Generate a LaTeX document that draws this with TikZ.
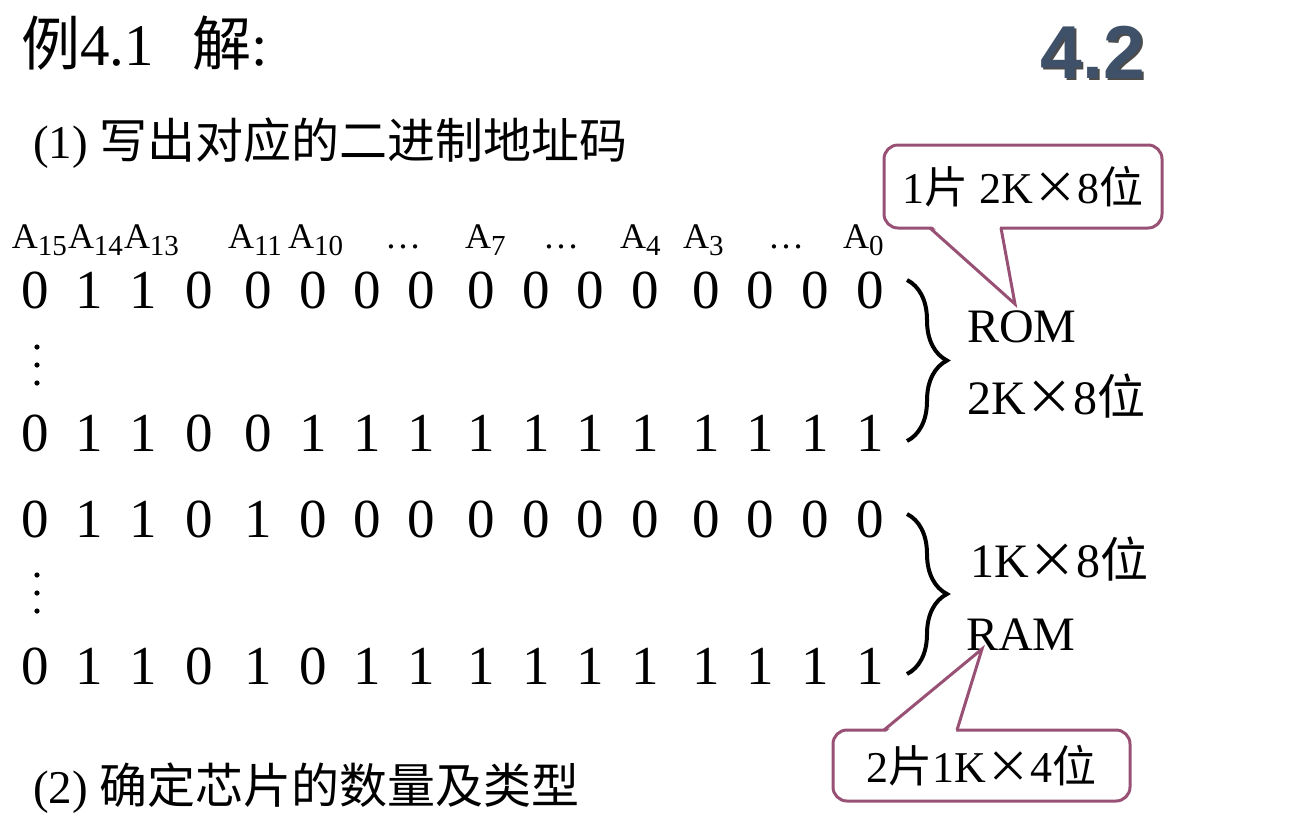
\documentclass[tikz,border=0pt]{standalone}
\usepackage{fontspec}
\setmainfont{Liberation Serif}
\newfontfamily\cjk{Noto Sans CJK SC}
\newfontfamily\hsans{Liberation Sans}
\usetikzlibrary{decorations.pathreplacing}
\definecolor{callcol}{HTML}{985174}
\definecolor{titleblue}{HTML}{3F5069}
\newcommand{\Ab}[1]{A\raisebox{-7pt}{\fontsize{29}{29}\selectfont #1}}
\newcommand{\putrow}[3]{%
  \foreach \x/\d [count=\i] in {#3}{\node[dig] (r#1c\i) at (\x,#2) {\d};}}
\begin{document}
\begin{tikzpicture}[x=1pt,y=-1pt,
  txt/.style={anchor=base west,inner sep=0pt,outer sep=0pt},
  big/.style={font=\fontsize{59}{59}\selectfont},
  mid/.style={font=\fontsize{48}{48}\selectfont},
  alab/.style={txt,font=\fontsize{36}{36}\selectfont},
  dig/.style={anchor=base,inner sep=0pt,font=\fontsize{55}{55}\selectfont},
  bracestyle/.style={line width=4pt,decorate,decoration={brace,amplitude=40pt}},
  callbox/.style={draw=callcol,line width=3pt,rounded corners=14pt,fill=white,
     inner sep=0pt,font=\fontsize{44}{44}\selectfont},
  callline/.style={draw=callcol,line width=3pt,line join=miter}
]
\useasboundingbox (0,0) rectangle (1300,823);

% title
\node[txt,big] (title) at (21,65) {{\cjk 例}4.1\hspace{0.65em}{\cjk 解}:};
\node[inner sep=0pt,font=\hsans\bfseries\fontsize{75}{75}\selectfont,text=black!70] (t42s) at (1095,54) {4.2};
\node[inner sep=0pt,font=\hsans\bfseries\fontsize{75}{75}\selectfont,text=titleblue] (t42) at (1093,52) {4.2};

% step 1
\node[txt,font=\fontsize{47}{47}\selectfont] (s1) at (33,158) {(1) {\cjk\fontsize{48}{48}\selectfont 写出对应的二进制地址码}};

% address labels
\node[alab] (a15) at (12,248) {\Ab{15}};
\node[alab] (a14) at (68,248) {\Ab{14}};
\node[alab] (a13) at (124,248) {\Ab{13}};
\node[alab] (a11) at (228,248) {\Ab{11}};
\node[alab] (a10) at (288,248) {\Ab{10}};
\node[alab] (e1) at (385,248) {…};
\node[alab] (a7) at (465,248) {\Ab{7}};
\node[alab] (e2) at (543,248) {…};
\node[alab] (a4) at (620,248) {\Ab{4}};
\node[alab] (a3) at (683,248) {\Ab{3}};
\node[alab] (e3) at (768,248) {…};
\node[alab] (a0) at (843,248) {\Ab{0}};

% digit rows
\putrow{1}{308}{35/0,89/1,143/1,199/0,258/0,313/0,367/0,421/0,481/0,536/0,590/0,645/0,706/0,760/0,815/0,870/0}
\putrow{2}{451}{35/0,89/1,143/1,199/0,258/0,313/1,367/1,421/1,481/1,536/1,590/1,645/1,706/1,760/1,815/1,870/1}
\putrow{3}{537}{35/0,89/1,143/1,199/0,258/1,313/0,367/0,421/0,481/0,536/0,590/0,645/0,706/0,760/0,815/0,870/0}
\putrow{4}{684}{35/0,89/1,143/1,199/0,258/1,313/0,367/1,421/1,481/1,536/1,590/1,645/1,706/1,760/1,815/1,870/1}

% vertical dots
\foreach \y in {347,365,383,575,593,611}{\fill (37,\y) circle (2.6pt);}

% braces
\coordinate (b1t) at (907,280);
\coordinate (b1b) at (907,441);
\coordinate (b2t) at (907,514);
\coordinate (b2b) at (907,674);
\draw[bracestyle] (b1t) -- (b1b);
\draw[bracestyle] (b2t) -- (b2b);

% labels
\node[txt,mid] (rom) at (967,342) {ROM};
\node[txt,mid] (rom2) at (967,414) {2K{\cjk ×}8{\cjk 位}};
\node[txt,mid] (ram1) at (970,577) {1K{\cjk ×}8{\cjk 位}};
\node[txt,mid] (ram) at (966,650) {RAM};

% callout 1
\node[callbox,minimum width=278pt,minimum height=83pt] (c1) at (1023,186.5) {1{\cjk 片} 2K{\cjk ×}8{\cjk 位}};
\coordinate (c1l) at (930,228);
\coordinate (c1r) at (1001,228);
\coordinate (c1tip) at (1015,304);
\fill[white] (931.5,225.5) -- (999.5,225.5) -- (c1tip) -- cycle;
\draw[callline] (c1l) -- (c1tip) -- (c1r);

% callout 2
\node[callbox,minimum width=297pt,minimum height=71pt] (c2) at (981.5,765.5) {2{\cjk 片}1K{\cjk ×}4{\cjk 位}};
\coordinate (c2l) at (884,730);
\coordinate (c2r) at (957,730);
\coordinate (c2tip) at (982,649);
\fill[white] (885.5,732.5) -- (955.5,732.5) -- (c2tip) -- cycle;
\draw[callline] (c2l) -- (c2tip) -- (c2r);

% step 2
\node[txt,font=\fontsize{47}{47}\selectfont] (s2) at (33,803) {(2) {\cjk\fontsize{48}{48}\selectfont 确定芯片的数量及类型}};
\end{tikzpicture}
\end{document}
